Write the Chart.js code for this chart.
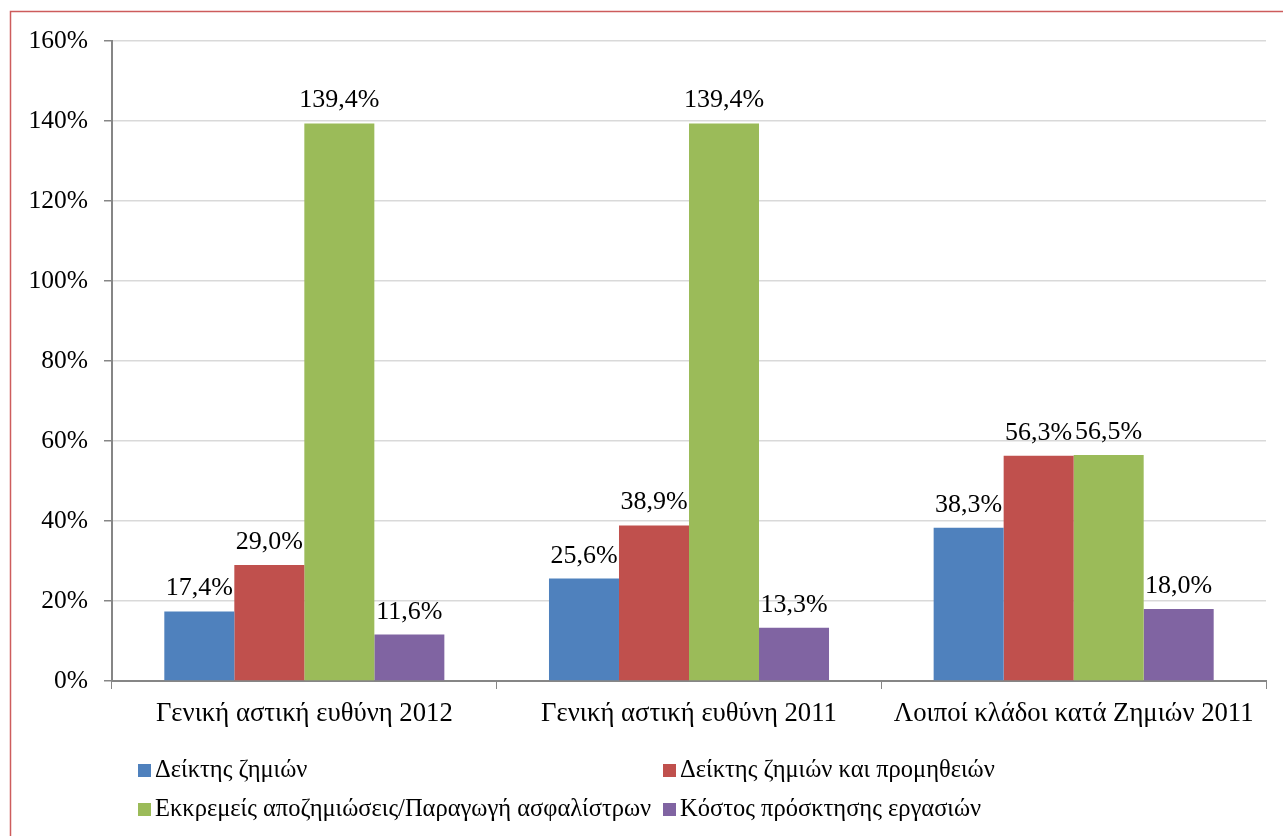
<!DOCTYPE html>
<html>
<head>
<meta charset="utf-8">
<script src="https://cdn.jsdelivr.net/npm/chart.js@4.4.1/dist/chart.umd.min.js"></script>
<style>
  body { margin: 0; background: #fff; }
  canvas { display: block; }
</style>
</head>
<body>
<canvas id="chart" width="1283" height="836"></canvas>
<script>
const categories = ['Γενική αστική ευθύνη 2012', 'Γενική αστική ευθύνη 2011', 'Λοιποί κλάδοι κατά Ζημιών 2011'];
const seriesNames = ['Δείκτης ζημιών', 'Δείκτης ζημιών και προμηθειών', 'Εκκρεμείς αποζημιώσεις/Παραγωγή ασφαλίστρων', 'Κόστος πρόσκτησης εργασιών'];
const lossRatio = [17.4, 25.6, 38.3];
const lossCommRatio = [29.0, 38.9, 56.3];
const pendingRatio = [139.4, 139.4, 56.5];
const acqCost = [11.6, 13.3, 18.0];
const colors = ['#4F81BD', '#C0504D', '#9BBB59', '#8064A2'];
const yTicks = [0, 20, 40, 60, 80, 100, 120, 140, 160];

const serif = '"Liberation Serif", "Times New Roman", serif';

function fmt(v) {
  return v.toFixed(1).replace('.', ',') + '%';
}

const frame = {
  id: 'frame',
  beforeDraw(chart) {
    const c = chart.ctx;
    c.save();
    c.fillStyle = '#fff';
    c.fillRect(0, 0, chart.width, chart.height);
    c.strokeStyle = '#CD5C5C';
    c.lineWidth = 1.5;
    c.strokeRect(10.5, 11.5, 1400, 900);
    c.restore();
  }
};

const valueLabels = {
  id: 'valueLabels',
  afterDatasetsDraw(chart) {
    const c = chart.ctx;
    c.save();
    c.font = '26px ' + serif;
    c.fillStyle = '#000';
    c.textAlign = 'center';
    c.textBaseline = 'alphabetic';
    chart.data.datasets.forEach((ds, i) => {
      chart.getDatasetMeta(i).data.forEach((bar, j) => {
        c.fillText(fmt(ds.data[j]), bar.x, bar.y - 16);
      });
    });
    c.restore();
  }
};

const legendBox = {
  id: 'legendBox',
  afterDraw(chart) {
    const c = chart.ctx;
    const pos = [[138, 770], [663, 770], [138, 809], [663, 809]];
    c.save();
    c.font = '24.5px ' + serif;
    c.textBaseline = 'middle';
    chart.data.datasets.forEach((ds, i) => {
      const [x, y] = pos[i];
      c.fillStyle = ds.backgroundColor;
      c.fillRect(x, y - 6, 13, 13);
      c.fillStyle = '#000';
      c.fillText(ds.label, x + 17, y + 1);
    });
    c.restore();
  }
};

const data = [lossRatio, lossCommRatio, pendingRatio, acqCost];

new Chart(document.getElementById('chart'), {
  type: 'bar',
  data: {
    labels: categories,
    datasets: data.map((d, i) => ({
      label: seriesNames[i],
      data: d,
      backgroundColor: colors[i],
      borderWidth: 0,
      categoryPercentage: 0.728,
      barPercentage: 1
    }))
  },
  options: {
    responsive: false,
    animation: false,
    layout: { padding: { left: 10, top: 41, right: 17, bottom: 0 } },
    plugins: {
      legend: { display: false },
      tooltip: { enabled: false }
    },
    scales: {
      x: {
        grid: { display: true, drawOnChartArea: false, offset: true, color: '#868686', tickLength: 8 },
        border: { color: '#868686', width: 2 },
        ticks: { color: '#000', font: { family: serif, size: 26.7 }, padding: 9, maxRotation: 0 },
        afterFit(s) { s.height = 155; }
      },
      y: {
        min: 0,
        max: 160,
        afterBuildTicks(s) { s.ticks = yTicks.map(v => ({ value: v })); },
        grid: { color: '#D9D9D9', tickColor: '#868686', tickLength: 8, lineWidth: 1.5 },
        border: { color: '#868686', width: 2 },
        ticks: { color: '#000', font: { family: serif, size: 25.5 }, padding: 16, callback: v => v + '%' },
        afterFit(s) { s.width = 102; }
      }
    }
  },
  plugins: [frame, valueLabels, legendBox]
});
</script>
</body>
</html>
